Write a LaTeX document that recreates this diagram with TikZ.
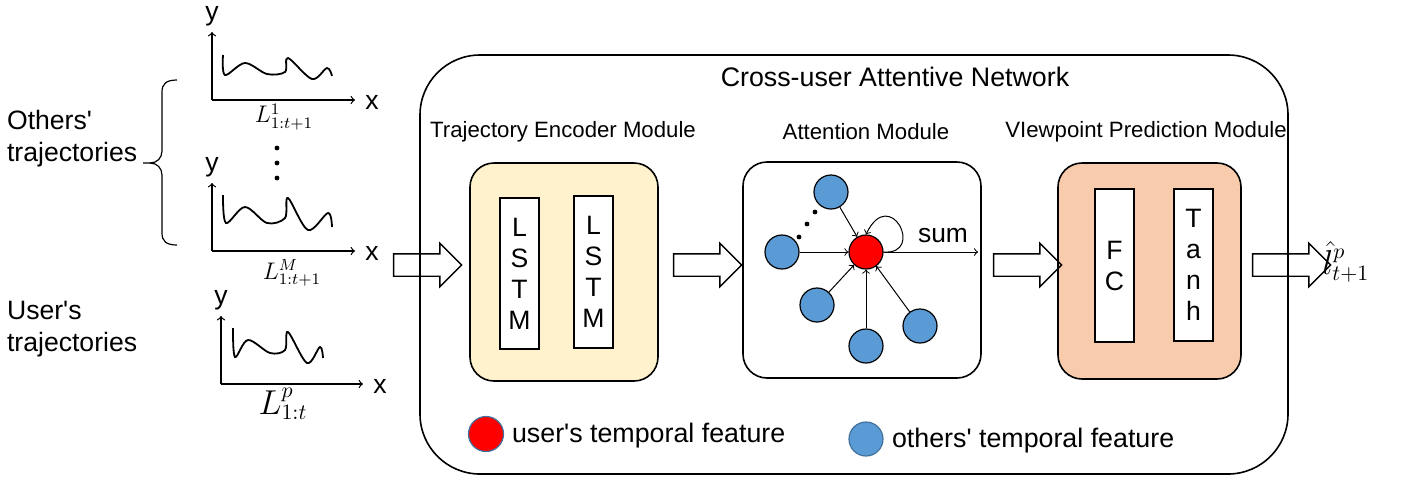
\documentclass[tikz,border=0pt]{standalone}
\usepackage{fontspec}
\newfontfamily\helv{Liberation Sans}
\usepackage{tikz}
\usetikzlibrary{arrows,shapes.arrows}

\definecolor{encfill}{HTML}{FFF2CC}
\definecolor{predfill}{HTML}{F8CBAD}
\definecolor{featblue}{HTML}{5B9BD5}
\definecolor{featedge}{HTML}{41719C}

\tikzset{
  module/.style={draw, line width=0.8pt, rounded corners=12pt},
  layer/.style={draw, line width=0.6pt, fill=white, minimum width=19.5pt, inner sep=0pt, align=center, font=\fontsize{13.3}{15.5}\selectfont},
  blockarrow/.style={single arrow, draw, line width=0.7pt, inner xsep=0pt, inner ysep=5.25pt, single arrow head extend=5.25pt, minimum height=34pt},
  feat/.style={circle, draw, line width=0.6pt, minimum size=17pt, inner sep=0pt},
  axis/.style={->, line width=0.6pt},
  curve/.style={line width=0.9pt},
  big/.style={font=\fontsize{13.3}{16}\selectfont},
  small/.style={font=\fontsize{11.1}{13}\selectfont}
}

\begin{document}
\helv
\begin{tikzpicture}[x=0.5pt,y=-0.5pt]

\useasboundingbox (0,0) rectangle (1404,479);

% inputs
\node[big, anchor=west, align=left] (others) at (0,139) {Others'\\trajectories};
\node[big, anchor=west, align=left] (user) at (0,329) {User's\\trajectories};

\draw[line width=0.6pt] (177,80) .. controls (166,80) and (162,84) .. (162,92) -- (162,151) .. controls (162,158) and (157,163) .. (150,163) -- (143,163);
\draw[line width=0.6pt] (177,245) .. controls (166,245) and (162,241) .. (162,233) -- (162,175) .. controls (162,168) and (157,163) .. (150,163);

\foreach \n/\ox/\oy/\len in {1/212/100/143, 2/212/251/143, 3/221/384/142} {
    \draw[axis] (\ox,\oy) -- (\ox,\oy-68);
    \draw[axis] (\ox,\oy) -- (\ox+\len,\oy);
    \node[big] (y\n) at (\ox,\oy-84) {y};
    \node[big] (x\n) at (\ox+\len+17,\oy+2) {x};
}

\draw[curve] plot[smooth, tension=0.55] coordinates {(223,55) (225,75) (245,63) (267,74) (285,72) (288,58) (312,79) (327,68) (332,76)};
\draw[curve] plot[smooth, tension=0.55] coordinates {(223,195) (226,223) (245,207) (267,223) (285,218) (288,198) (308,230) (328,213) (332,227)};
\draw[curve] plot[smooth, tension=0.55] coordinates {(233,328) (235,357) (248,340) (270,353) (285,350) (288,332) (307,363) (320,347) (323,358)};

\foreach \y in {148,163,178}
    \fill (277,\y) circle (1.2pt);

\node[font=\fontsize{11.5}{13}\selectfont] (lab1) at (284,117) {$L^{1}_{1:t+1}$};
\node[font=\fontsize{11.5}{13}\selectfont] (labM) at (292,273) {$L^{M}_{1:t+1}$};
\node[font=\fontsize{16}{19}\selectfont] (labp) at (283,404) {$L^{p}_{1:t}$};

% network
\draw[line width=0.8pt, rounded corners=30pt] (420,55) rectangle (1288,474);
\node[font=\fontsize{13.4}{16}\selectfont] (title) at (895,77) {Cross-user Attentive Network};

\node[small] (enclab) at (563,132) {Trajectory Encoder Module};
\node[small] (attlab) at (866,132) {Attention Module};
\node[small] (predlab) at (1146,132) {VIewpoint Prediction Module};

\node[module, fill=encfill, minimum width=94pt, minimum height=109pt] (enc) at (564,272) {};
\node[module, minimum width=119pt, minimum height=108pt] (att) at (862,270) {};
\node[module, fill=predfill, minimum width=91.5pt, minimum height=108pt] (pred) at (1149.5,271) {};

\node[layer, minimum height=75.5pt] (lstm1) at (519.5,273.5) {L\\S\\T\\M};
\node[layer, minimum height=76pt] (lstm2) at (593.5,272) {L\\S\\T\\M};
\node[layer, minimum height=76.5pt] (fc) at (1114.5,265.5) {F\\C};
\node[layer, minimum height=76pt] (tanh) at (1193.5,265) {T\\a\\n\\h};

\node[blockarrow] (in) at (422,265) {};
\node[blockarrow] (enc2att) at (702,265) {};
\node[blockarrow] (att2pred) at (1022,265) {};
\node[blockarrow, minimum height=39pt] (out) at (1286,265) {};
\node[font=\fontsize{16}{19}\selectfont, anchor=west, inner sep=0pt] (lhat) at (1322,262) {$\hat{l}^{p}_{t+1}$};

% attention graph
\node[feat, fill=red] (u) at (866,252) {};
\node[feat, fill=featblue] (o1) at (831,192) {};
\node[feat, fill=featblue] (o2) at (782,252) {};
\node[feat, fill=featblue] (o3) at (817,305) {};
\node[feat, fill=featblue] (o4) at (866,346) {};
\node[feat, fill=featblue] (o5) at (920,326) {};

\foreach \i in {1,...,5}
    \draw[->, line width=0.5pt] (o\i) -- (u);

\foreach \x/\y in {815/212, 807/224, 799/237}
    \fill (\x,\y) circle (1.2pt);

\draw[->, line width=0.5pt] (u.east) .. controls +(42,3) and +(24,-50) .. (u.north);

\coordinate (sumend) at (978,252);
\draw[->, line width=0.5pt] (u) -- (sumend);
\node[font=\fontsize{13.2}{16}\selectfont] (sum) at (943,236) {sum};

% legend
\node[feat, fill=red, draw=featedge, minimum size=17.5pt] (leg1) at (486,434) {};
\node[font=\fontsize{13.4}{16}\selectfont, anchor=west] (leg1txt) at (505,436) {user's temporal feature};
\node[feat, fill=featblue, draw=featedge] (leg2) at (866,439) {};
\node[font=\fontsize{13.4}{16}\selectfont, anchor=west] (leg2txt) at (885,441) {others' temporal feature};

\end{tikzpicture}
\end{document}
